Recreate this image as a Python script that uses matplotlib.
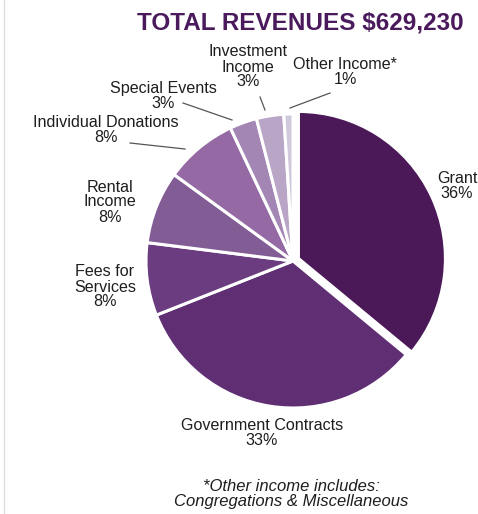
import matplotlib
matplotlib.use("Agg")
import matplotlib.pyplot as plt

categories = ["Grant", "Government Contracts", "Fees for Services", "Rental Income",
              "Individual Donations", "Special Events", "Investment Income", "Other Income*"]
values = [36, 33, 8, 8, 8, 3, 3, 1]
label_texts = ["Grant\n36%", "Government Contracts\n33%", "Fees for\nServices\n8%",
               "Rental\nIncome\n8%", "Individual Donations\n8%", "Special Events\n3%",
               "Investment\nIncome\n3%", "Other Income*\n1%"]
title = "TOTAL REVENUES $629,230"
footnote = "*Other income includes:\nCongregations & Miscellaneous"

colors = ["#4b1858", "#5f2e73", "#6b3d80", "#825c94", "#9469a4", "#a486b4",
          "#b9a6c7", "#d0c9dc"]
explode = [6, 0, 0, 0, 0, 0, 0, 0]

W, H = 478, 514
fig = plt.figure(figsize=(W / 100, H / 100), dpi=100)
ax = fig.add_axes([0, 0, 1, 1])
plt.rcParams['font.family'] = ['Liberation Sans', 'DejaVu Sans']

cx, cy, R = 293, H - 261, 147
ax.pie(values, colors=colors, startangle=90, counterclock=False,
       center=(cx, cy), radius=R, explode=explode,
       wedgeprops=dict(edgecolor="white", linewidth=2.2))
ax.set_xlim(0, W)
ax.set_ylim(0, H)
ax.set_aspect("equal")
ax.axis("off")

def Y(y):
    return H - y

txt = dict(ha="center", va="center", fontsize=11.6, color="#1e1e1e",
           family="Liberation Sans", linespacing=1.0)

ax.text(300, Y(23), title, ha="center", va="center", fontsize=17.5,
        fontweight="bold", color="#4a1a5c", family="Liberation Sans")

pos = [(457, 186), (262, 433), (105, 287), (110, 202), (106, 130),
       (163, 96), (248, 67), (345, 72)]
for (x, y), t in zip(pos, label_texts):
    ax.text(x, Y(y), t, **txt)

leaders = [((330, 93), (290, 108)), ((260, 97), (265, 110)),
           ((183, 103), (232, 120)), ((130, 143), (185, 149))]
for (x1, y1), (x2, y2) in leaders:
    ax.plot([x1, x2], [Y(y1), Y(y2)], color="#555555", lw=0.9)

ax.text(291, Y(494), footnote, ha="center", va="center", fontsize=12,
        style="italic", color="#1e1e1e", family="Liberation Sans", linespacing=1.0)

ax.plot([4, 4], [Y(0), Y(514)], color="#dddddd", lw=1)

fig.savefig("out.png", dpi=100)
